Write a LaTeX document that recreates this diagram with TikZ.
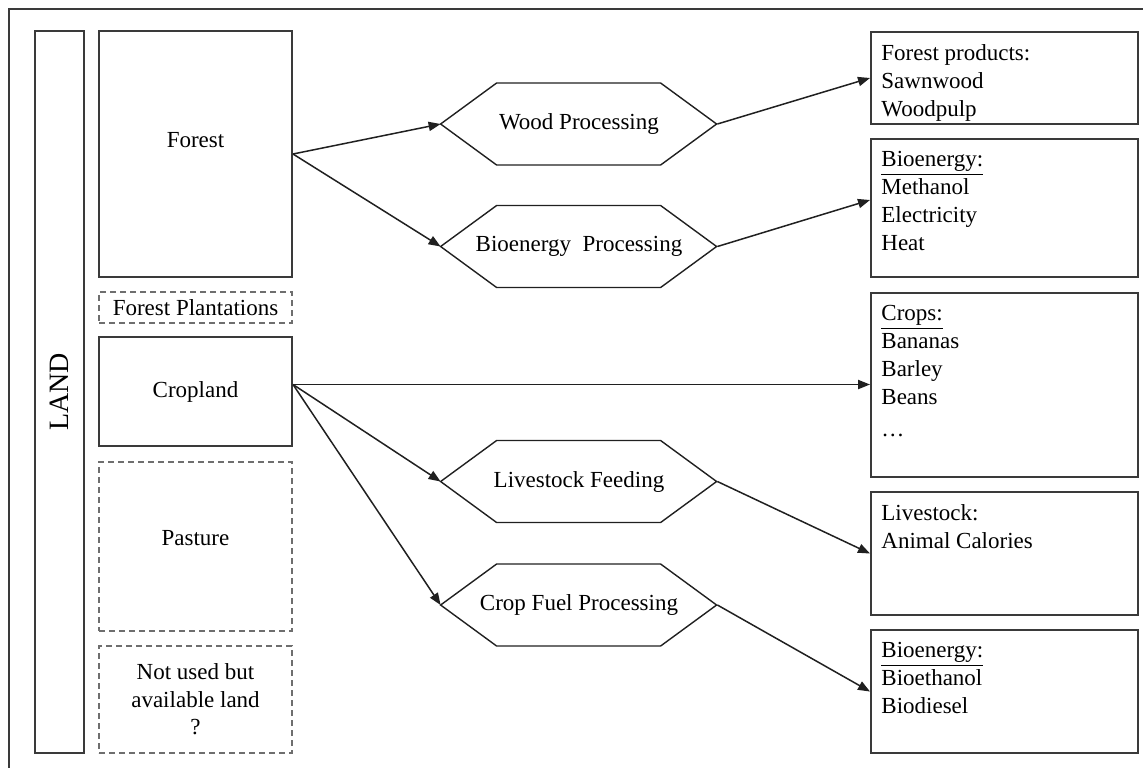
\documentclass[tikz,border=0pt]{standalone}
\usepackage{fontspec}
\setmainfont{Liberation Serif}
\usetikzlibrary{arrows.meta,calc}
\definecolor{boxc}{HTML}{3A3A3A}
\definecolor{dashc}{HTML}{6E6E6E}
\definecolor{linec}{HTML}{202020}
\newcommand\hexa[1]{\draw[hexline] (#1.west) -- ++(56,-41) -- ++(164,0) -- ++(56,41) -- ++(-56,41) -- ++(-164,0) -- cycle;}
\begin{document}
\begin{tikzpicture}[x=0.5pt,y=-0.5pt,
  every node/.style={font=\fontsize{11.5}{14}\selectfont},
  solidbox/.style={draw=boxc, line width=1pt, inner sep=0pt, minimum width=96.5pt},
  dashbox/.style={draw=dashc, line width=1pt, dash pattern=on 3pt off 2pt, inner sep=0pt, minimum width=96.5pt, align=center},
  outbox/.style={draw=boxc, line width=1pt, inner sep=0pt, minimum width=133.5pt},
  rtext/.style={anchor=north west, inner sep=0pt, align=left},
  hexnode/.style={minimum width=138pt, minimum height=41pt, inner sep=0pt},
  hexline/.style={draw=linec, line width=0.7pt},
  arr/.style={draw=linec, line width=0.75pt, -{Triangle[length=6pt,width=4.6pt]}}]
\useasboundingbox (0,0) rectangle (1143,767);
% outer frame (cropped)
\draw[boxc, line width=1pt] (9,780) -- (9,9) -- (1160,9);

% LAND
\node[solidbox, minimum width=24.5pt, minimum height=361pt] (land) at (59.5,392) {};
\node[rotate=90, font=\fontsize{14}{16}\selectfont] (landtxt) at (59.5,392) {LAND};

% left column
\node[solidbox, minimum height=123pt] (forest) at (195.5,154) {};
\node (forestt) at (195.5,140) {Forest};
\node[dashbox, minimum height=15.5pt] (fp) at (195.5,307.5) {Forest Plantations};
\node[solidbox, minimum height=54.5pt] (crop) at (195.5,391.5) {Cropland};
\node[dashbox, minimum height=84.5pt] (past) at (195.5,546.5) {};
\node (pastt) at (195.5,538) {Pasture};
\node[dashbox, minimum height=53.5pt, font=\fontsize{11.5}{13.75}\selectfont] (nu) at (195.5,699.5) {Not used but\\available land\\?};

% hexagons
\node[hexnode] (wp) at (579,124) {Wood Processing};
\node[hexnode] (bp) at (579,246.5) {Bioenergy\ \ Processing};
\node[hexnode] (lf) at (579,481.5) {Livestock Feeding};
\node[hexnode] (cf) at (579,605) {Crop Fuel Processing};
\hexa{wp}\hexa{bp}\hexa{lf}\hexa{cf}

% right boxes
\node[outbox, minimum height=46pt] (b1) at (1004.5,78) {};
\node[outbox, minimum height=69pt] (b2) at (1004.5,208) {};
\node[outbox, minimum height=92pt] (b3) at (1004.5,385) {};
\node[outbox, minimum height=61.5pt] (b4) at (1004.5,553.5) {};
\node[outbox, minimum height=61.5pt] (b5) at (1004.5,691.5) {};
\node[rtext] (t1) at ($(b1.north west)+(11,13)$) {Forest products:\\Sawnwood\\Woodpulp};
\node[rtext] (t2) at ($(b2.north west)+(11,13)$) {\underline{Bioenergy:}\\Methanol\\Electricity\\Heat};
\node[rtext] (t3) at ($(b3.north west)+(11,13)$) {\underline{Crops:}\\Bananas\\Barley\\Beans\\[2pt]\ldots};
\node[rtext] (t4) at ($(b4.north west)+(11,13)$) {Livestock:\\Animal Calories};
\node[rtext] (t5) at ($(b5.north west)+(11,13)$) {\underline{Bioenergy:}\\Bioethanol\\Biodiesel};

% connectors
\coordinate (cs) at ($(crop.east)+(0,-7)$);
\draw[arr] (forest.east) -- (wp.west);
\draw[arr] (forest.east) -- (bp.west);
\draw[arr] (wp.east) -- (b1.west);
\draw[arr] (bp.east) -- ($(b2.west)+(0,-8)$);
\draw[arr] (cs) -- (cs -| b3.west);
\draw[arr] (cs) -- (lf.west);
\draw[arr] (cs) -- (cf.west);
\draw[arr] (lf.east) -- (b4.west);
\draw[arr] (cf.east) -- (b5.west);
\end{tikzpicture}
\end{document}
